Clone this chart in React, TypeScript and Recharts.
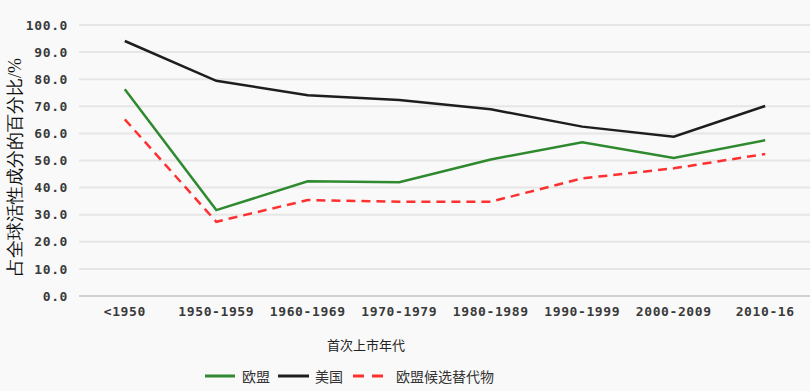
import React from 'react';
import { LineChart, Line, XAxis, YAxis, CartesianGrid, Legend } from 'recharts';

const categories = ['<1950', '1950-1959', '1960-1969', '1970-1979', '1980-1989', '1990-1999', '2000-2009', '2010-16'];
const euValues = [76.3, 31.7, 42.3, 42.0, 50.4, 56.7, 50.9, 57.5];
const usValues = [94.1, 79.4, 74.1, 72.3, 68.9, 62.5, 58.8, 70.1];
const candidateValues = [65.2, 27.4, 35.4, 34.8, 34.8, 43.4, 47.1, 52.4];
const yTicks = [0, 10, 20, 30, 40, 50, 60, 70, 80, 90, 100];

const seriesNames = { eu: '欧盟', us: '美国', cand: '欧盟候选替代物' };
const colors = { eu: '#2f8a2f', us: '#1e1e1e', cand: '#ff3030' };

const data = categories.map((c, i) => ({
  name: c,
  eu: euValues[i],
  us: usValues[i],
  cand: candidateValues[i],
}));

const sans = '"Noto Sans CJK SC", "DejaVu Sans", sans-serif';
const tickFont = {
  fontFamily: '"DejaVu Sans Mono", monospace',
  fontWeight: 'bold',
  fontSize: 13,
  letterSpacing: 0.6,
  fill: '#3a3a3a',
};

const LegendContent = () => (
  <div style={{ display: 'flex', alignItems: 'center', height: 26, fontFamily: sans, fontSize: 14, color: '#333' }}>
    <svg width={30} height={10} style={{ marginLeft: 205 }}>
      <line x1={0} y1={5} x2={30} y2={5} stroke={colors.eu} strokeWidth={3} />
    </svg>
    <span style={{ marginLeft: 7 }}>{seriesNames.eu}</span>
    <svg width={31} height={10} style={{ marginLeft: 8 }}>
      <line x1={0} y1={5} x2={31} y2={5} stroke={colors.us} strokeWidth={3} />
    </svg>
    <span style={{ marginLeft: 6 }}>{seriesNames.us}</span>
    <svg width={30} height={10} style={{ marginLeft: 10 }}>
      <line x1={0} y1={5} x2={30} y2={5} stroke={colors.cand} strokeWidth={3} strokeDasharray="11 8" />
    </svg>
    <span style={{ marginLeft: 13 }}>{seriesNames.cand}</span>
  </div>
);

export default function App() {
  return (
    <div style={{ position: 'absolute', left: 0, top: 0, width: 810, height: 391, background: '#f9f9f9', overflow: 'hidden' }}>
      <LineChart width={811} height={391} data={data} margin={{ top: 25, right: 0, bottom: 0, left: 0 }}>
        <CartesianGrid vertical={false} stroke="#e6e6e6" strokeWidth={2} />
        <XAxis
          dataKey="name"
          height={65}
          padding={{ left: 45.8, right: 45.8 }}
          axisLine={{ stroke: '#d2d2d2', strokeWidth: 2 }}
          tickLine={false}
          tickSize={0}
          tickMargin={11}
          interval={0}
          tick={tickFont}
          label={{
            content: () => (
              <text x={366} y={350} textAnchor="middle" fontFamily={sans} fontSize={13} fill="#222">
                首次上市年代
              </text>
            ),
          }}
        />
        <YAxis
          width={79}
          domain={[0, 100]}
          ticks={yTicks}
          tickFormatter={(v: number) => v.toFixed(1)}
          axisLine={false}
          tickLine={false}
          tickSize={0}
          tickMargin={11}
          tick={tickFont}
          label={{
            content: () => (
              <text
                x={15}
                y={167}
                transform="rotate(-90 15 167)"
                textAnchor="middle"
                dominantBaseline="central"
                fontFamily="serif"
                fontSize={18}
                fill="#111"
              >
                占全球活性成分的百分比/%
              </text>
            ),
          }}
        />
        <Legend
          verticalAlign="bottom"
          height={30}
          content={<LegendContent />}
          wrapperStyle={{ left: 0, top: 363, bottom: 'auto', width: 810, height: 30 }}
        />
        <Line type="linear" dataKey="eu" name={seriesNames.eu} stroke={colors.eu} strokeWidth={2.5} dot={false} isAnimationActive={false} />
        <Line type="linear" dataKey="us" name={seriesNames.us} stroke={colors.us} strokeWidth={2.5} dot={false} isAnimationActive={false} />
        <Line type="linear" dataKey="cand" name={seriesNames.cand} stroke={colors.cand} strokeWidth={2.5} strokeDasharray="9 6" dot={false} isAnimationActive={false} />
      </LineChart>
    </div>
  );
}
